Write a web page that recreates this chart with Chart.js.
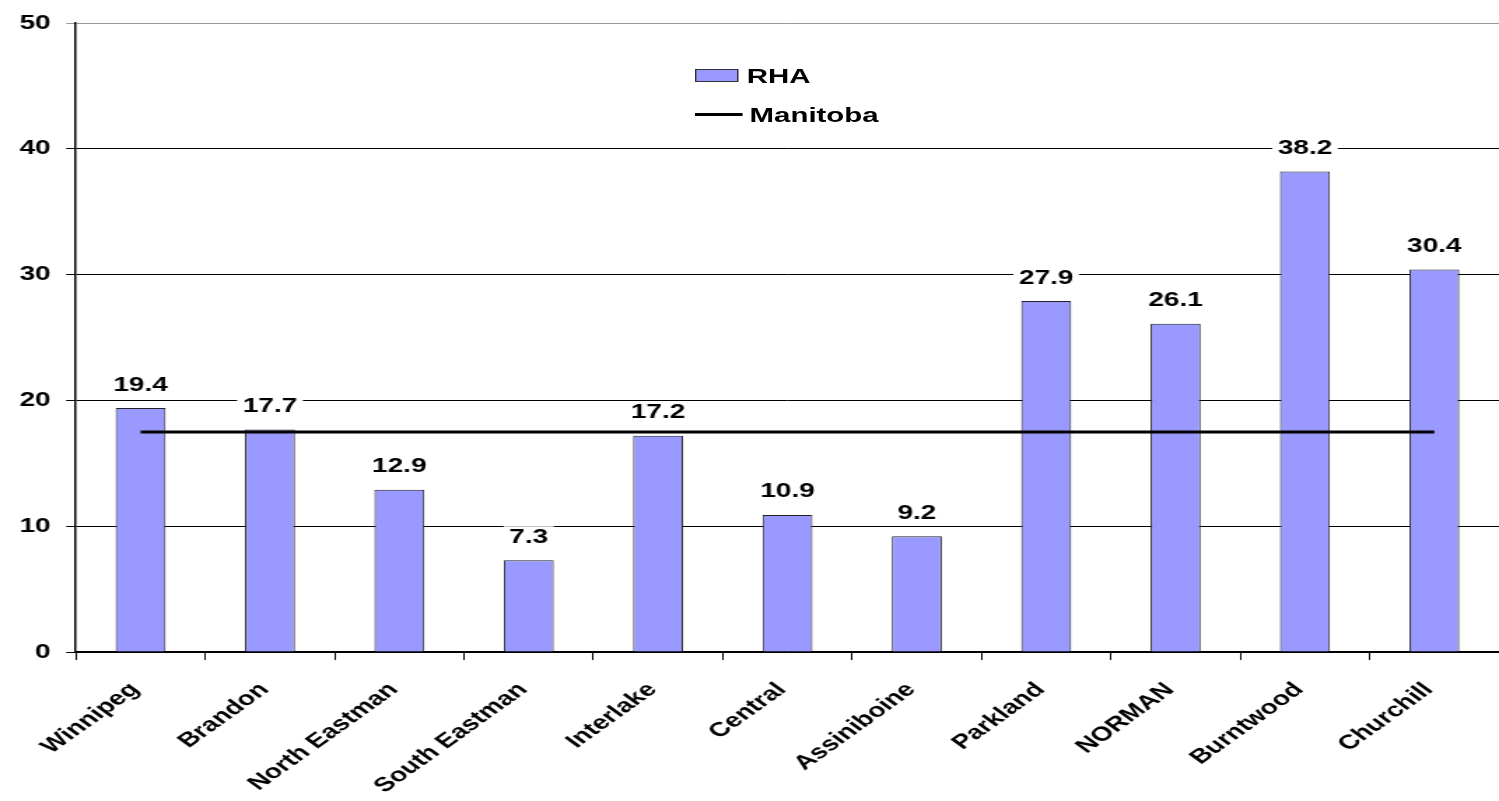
<!DOCTYPE html>
<html>
<head>
<meta charset="utf-8">
<script src="https://cdn.jsdelivr.net/npm/chart.js@4.4.9/dist/chart.umd.min.js"></script>
<style>
  html, body { margin: 0; padding: 0; background: #fff; overflow: hidden; }
  #wrap { position: relative; width: 1499px; height: 801px; }
  #rhaChart { display: block; }
  #legend {
    position: absolute; left: 695px; top: 56px;
    transform: scaleX(1.4); transform-origin: 0 0;
    font: bold 21px "Liberation Sans", Arial, sans-serif; color: #000;
  }
  #legend .row { display: flex; align-items: center; height: 39px; }
  #legend .box { width: 31px; height: 13px; background: #9999ff; border: 1px solid #333; margin-right: 6px; box-sizing: border-box; }
  #legend .line { width: 34px; height: 3px; background: #000; margin-right: 5px; }
</style>
</head>
<body>
<div id="wrap">
  <!-- the original picture is stretched sideways, so the canvas is too -->
  <canvas id="rhaChart" width="1071" height="801" style="width:1499px;height:801px"></canvas>
  <div id="legend">
    <div class="row"><span class="box"></span>RHA</div>
    <div class="row"><span class="line"></span>Manitoba</div>
  </div>
</div>
<script>
// Data
const regions = ['Winnipeg', 'Brandon', 'North Eastman', 'South Eastman', 'Interlake',
    'Central', 'Assiniboine', 'Parkland', 'NORMAN', 'Burntwood', 'Churchill'];
const rhaValues = [19.4, 17.7, 12.9, 7.3, 17.2, 10.9, 9.2, 27.9, 26.1, 38.2, 30.4];
const manitobaRate = 17.5;
const manitobaValues = regions.map(() => manitobaRate);

const FONT = '"Liberation Sans", Arial, sans-serif';

// Draws the value above each bar on a white patch (it breaks the gridlines)
const barLabels = {
    id: 'barLabels',
    afterDatasetsDraw(chart) {
        const ctx = chart.ctx;
        const meta = chart.getDatasetMeta(1);
        ctx.save();
        ctx.font = 'bold 20px ' + FONT;
        ctx.textAlign = 'center';
        ctx.textBaseline = 'middle';
        meta.data.forEach(function(bar, i) {
            const text = rhaValues[i].toFixed(1);
            const w = ctx.measureText(text).width + 8;
            const cy = bar.y - 23;
            ctx.fillStyle = '#fff';
            ctx.fillRect(bar.x - w / 2, cy - 11, w, 22);
            ctx.fillStyle = '#000';
            ctx.fillText(text, bar.x, cy);
        });
        ctx.restore();
    }
};

const ctx = document.getElementById('rhaChart').getContext('2d');
new Chart(ctx, {
    type: 'bar',
    data: {
        labels: regions,
        datasets: [{
            type: 'line',
            label: 'Manitoba',
            data: manitobaValues,
            borderColor: '#000',
            borderWidth: 3,
            pointRadius: 0,
            fill: false,
            order: 0
        }, {
            type: 'bar',
            label: 'RHA',
            data: rhaValues,
            backgroundColor: '#9999ff',
            borderColor: '#222',
            borderWidth: 1,
            barPercentage: 0.386,
            categoryPercentage: 1,
            order: 1
        }]
    },
    options: {
        responsive: false,
        animation: false,
        layout: { padding: { top: 5, right: 0, left: 3, bottom: -15 } },
        plugins: {
            legend: { display: false },
            tooltip: { enabled: false }
        },
        scales: {
            y: {
                min: 0,
                max: 50,
                ticks: {
                    stepSize: 10,
                    color: '#000',
                    padding: 11,
                    font: { family: FONT, size: 20, weight: 'bold' }
                },
                grid: {
                    color: c => c.tick.value === 50 ? '#999' : '#000',
                    lineWidth: 1,
                    tickLength: 7
                },
                border: { color: '#000', width: 1.5 }
            },
            x: {
                offset: true,
                ticks: {
                    color: '#000',
                    minRotation: 45,
                    maxRotation: 45,
                    padding: 18,
                    labelOffset: -4,
                    font: { family: FONT, size: 20, weight: 'bold' }
                },
                grid: { offset: true, drawOnChartArea: false, color: '#000', tickLength: 8 },
                border: { color: '#000', width: 1.5 }
            }
        }
    },
    plugins: [barLabels]
});
</script>
</body>
</html>
